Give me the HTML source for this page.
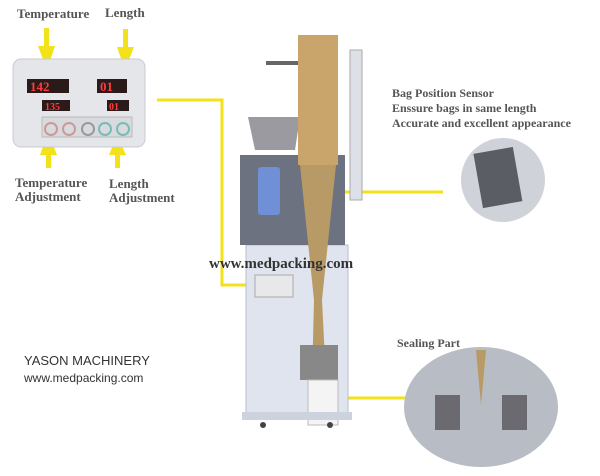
<!DOCTYPE html>
<html><head><style>
body{margin:0;width:600px;height:471px;background:#fff;overflow:hidden}
svg text{font-family:"Liberation Serif",serif;font-weight:bold;fill:#555}
</style></head><body>
<svg width="600" height="471" viewBox="0 0 600 471" xmlns="http://www.w3.org/2000/svg">
<!-- top labels -->
<text x="17" y="18" font-size="13">Temperature</text>
<text x="105" y="17" font-size="13">Length</text>
<!-- arrows -->
<g fill="#f3e21a" stroke="none">
<rect x="44" y="28" width="5" height="20"/><polygon points="38,46 55,46 47,70"/>
<rect x="123" y="29" width="5" height="20"/><polygon points="117,47 134,47 125,70"/>
<rect x="46" y="150" width="5" height="18"/><polygon points="40,155 57,155 48,132"/>
<rect x="115" y="148" width="5" height="20"/><polygon points="109,155 126,155 117,135"/>
</g>
<!-- control panel -->
<rect x="13" y="59" width="132" height="88" rx="8" fill="#e4e6ea" stroke="#c8cbd0"/>
<rect x="27" y="79" width="42" height="14" fill="#2a1a1a"/><text x="30" y="91" font-size="13" style="fill:#ff3b3b">142</text>
<rect x="97" y="79" width="30" height="14" fill="#2a1a1a"/><text x="100" y="91" font-size="13" style="fill:#ff3b3b">01</text>
<rect x="42" y="100" width="28" height="11" fill="#2a1a1a"/><text x="45" y="110" font-size="10" style="fill:#ff3b3b">135</text>
<rect x="107" y="100" width="22" height="11" fill="#2a1a1a"/><text x="109" y="110" font-size="10" style="fill:#ff3b3b">01</text>
<rect x="42" y="117" width="90" height="20" fill="#d8dadd" stroke="#bbb"/>
<circle cx="51" cy="129" r="6" fill="none" stroke="#c99" stroke-width="2"/>
<circle cx="69" cy="129" r="6" fill="none" stroke="#c99" stroke-width="2"/>
<circle cx="88" cy="129" r="6" fill="none" stroke="#999" stroke-width="2"/>
<circle cx="105" cy="129" r="6" fill="none" stroke="#7bb" stroke-width="2"/>
<circle cx="123" cy="129" r="6" fill="none" stroke="#7bb" stroke-width="2"/>
<text x="15" y="187" font-size="13">Temperature</text>
<text x="15" y="201" font-size="13">Adjustment</text>
<text x="109" y="188" font-size="13">Length</text>
<text x="109" y="202" font-size="13">Adjustment</text>
<!-- connector lines -->
<polyline points="157,100 222,100 222,285 258,285" fill="none" stroke="#f3e21a" stroke-width="3"/>
<line x1="345" y1="192" x2="443" y2="192" stroke="#f3e21a" stroke-width="3"/>
<line x1="330" y1="398" x2="407" y2="398" stroke="#f3e21a" stroke-width="3"/>
<!-- machine -->
<rect x="266" y="61" width="32" height="4" fill="#666"/>
<rect x="350" y="50" width="12" height="150" fill="#dde0e6" stroke="#aaa"/>
<rect x="246" y="245" width="102" height="170" fill="#dfe4ee" stroke="#b8bfcc"/>
<rect x="240" y="155" width="105" height="90" fill="#6d7280"/>
<rect x="258" y="167" width="22" height="48" rx="3" fill="#6f8fd6"/>
<path d="M248 117 L300 117 L295 150 L255 150 Z" fill="#9a9aa0"/>
<rect x="298" y="35" width="40" height="130" fill="#c9a56b"/>
<path d="M300 165 L336 165 L322 300 L326 380 L312 380 L314 300 Z" fill="#b89a66"/>
<rect x="255" y="275" width="38" height="22" fill="#e8e8ea" stroke="#aaa"/>
<rect x="300" y="345" width="38" height="35" fill="#888"/>
<rect x="308" y="380" width="30" height="45" fill="#f4f4f4" stroke="#bbb"/>
<rect x="242" y="412" width="110" height="8" fill="#cdd3de"/>
<circle cx="263" cy="425" r="3" fill="#444"/><circle cx="330" cy="425" r="3" fill="#444"/>
<!-- sensor circle -->
<circle cx="503" cy="180" r="42" fill="#cfd2d8"/>
<rect x="478" y="150" width="40" height="55" fill="#5a5d63" transform="rotate(-10 498 178)"/>
<!-- sealing ellipse -->
<ellipse cx="481" cy="407" rx="77" ry="60" fill="#b7bcc5"/>
<rect x="435" y="395" width="25" height="35" fill="#6a6a70"/>
<rect x="502" y="395" width="25" height="35" fill="#6a6a70"/>
<path d="M476 350 L486 350 L481 405 Z" fill="#b89a66"/>
<!-- texts -->
<text x="392" y="97" font-size="12">Bag Position Sensor</text>
<text x="392" y="112" font-size="12">Enssure bags in same length</text>
<text x="392" y="127" font-size="12">Accurate and excellent appearance</text>
<text x="397" y="347" font-size="12">Sealing Part</text>
<text x="209" y="268" font-size="15" style="fill:#333">www.medpacking.com</text>
<text x="24" y="365" font-size="13" style="font-family:'Liberation Sans',sans-serif;font-weight:normal;fill:#333">YASON MACHINERY</text>
<text x="24" y="382" font-size="12" style="font-family:'Liberation Sans',sans-serif;font-weight:normal;fill:#333">www.medpacking.com</text>
</svg>
</body></html>
